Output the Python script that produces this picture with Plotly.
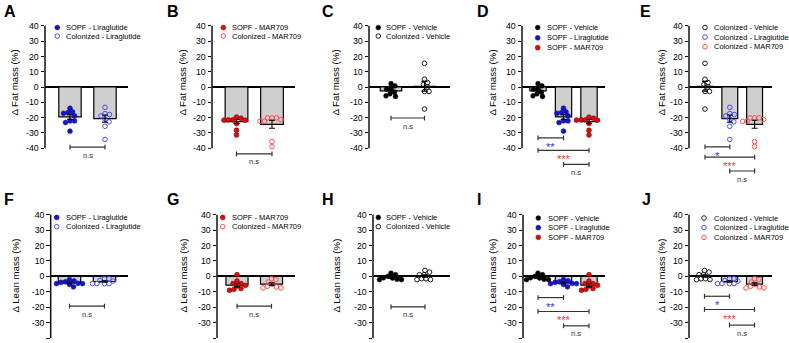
import numpy as np
import plotly.graph_objects as go

W, H = 789, 343
FONT = "Liberation Sans, Arial, sans-serif"

# ---------------- data: % change from baseline, one value per mouse ----------------
group_labels = ["SOPF - Vehicle", "Colonized - Vehicle",
                "SOPF - Liraglutide", "Colonized - Liraglutide",
                "SOPF - MAR709", "Colonized - MAR709"]

fat_sopf_vehicle = [2.2, 0.7, -1.4, -1.4, -3.4, -4.5, -5.8, -6.2]
fat_col_vehicle = [15.5, 5.1, 2.9, 1.6, 0.0, -2.9, -2.9, -14.4]
fat_sopf_lira = [-13.9, -16.3, -16.7, -17.2, -18.9, -22.2, -22.2, -23.3, -28.9]
fat_col_lira = [-13.3, -17.4, -18.0, -18.9, -21.1, -22.8, -25.7, -34.3]
fat_sopf_mar = [-19.7, -20.4, -21.5, -21.5, -21.7, -21.7, -23.9, -28.3, -31.4]
fat_col_mar = [-20.2, -20.2, -20.2, -21.3, -22.4, -22.4, -35.7, -39.0]

lean_sopf_vehicle = [2.1, 1.1, 0.0, -0.9, -1.1, -1.9, -2.1, -2.1]
lean_col_vehicle = [3.9, 2.8, 1.1, 1.1, -1.5, -1.5, -2.1, -2.1]
lean_sopf_lira = [-2.1, -3.0, -3.5, -3.9, -4.5, -4.7, -4.7, -5.2, -6.8]
lean_col_lira = [-1.5, -1.5, -2.6, -3.0, -4.7, -4.7, -4.7, -4.7]
lean_sopf_mar = [1.1, -3.0, -4.7, -4.7, -5.8, -6.2, -7.9, -8.4, -9.0]
lean_col_mar = [-1.5, -2.1, -3.6, -5.2, -6.4, -6.9, -7.5, -7.5]

# group mean and SEM as drawn (bar + error bar)
fat_means = [-2.5, 0.5, -19.6, -20.7, -22.6, -24.4]
fat_sems = [1.0, 3.2, 1.5, 2.4, 1.3, 2.6]
lean_means = [-0.6, 0.3, -4.3, -3.3, -5.7, -5.0]
lean_sems = [0.6, 0.8, 0.5, 0.5, 1.1, 0.8]

fat_points = [fat_sopf_vehicle, fat_col_vehicle, fat_sopf_lira,
              fat_col_lira, fat_sopf_mar, fat_col_mar]
lean_points = [lean_sopf_vehicle, lean_col_vehicle, lean_sopf_lira,
               lean_col_lira, lean_sopf_mar, lean_col_mar]

panel_letters = ["A", "B", "C", "D", "E", "F", "G", "H", "I", "J"]
panel_groups = [[2, 3], [4, 5], [0, 1], [0, 2, 4], [1, 3, 5]] * 2
sig_two = [(0, 1, "n.s")]
sig_sopf = [(0, 1, "**"), (0, 2, "***"), (1, 2, "n.s")]
sig_col = [(0, 1, "*"), (0, 2, "***"), (1, 2, "n.s")]
panel_sig = [sig_two, sig_two, sig_two, sig_sopf, sig_col] * 2
y_titles = ["\u0394 Fat mass (%)", "\u0394 Lean mass (%)"]
y_tick_vals = [40, 30, 20, 10, 0, -10, -20, -30, -40]

# ---------------- layout geometry (pixels) ----------------
ROWS = [dict(zero=85.5, s=1.5375, rng=[-62, 42], letter_y=10, title_y=81),
        dict(zero=276.0, s=1.55, rng=[-42, 42], letter_y=198.5, title_y=275)]

GEO = [
    dict(ax=45, end=128, c0=70, sp=35, tx=15, lx=2, mx=57.3, txt=64, rows=[25.7, 34.3], br=[146]),
    dict(ax=212, end=295, c0=236.5, sp=35.5, tx=183, lx=165, mx=223.3, txt=230, rows=[25.7, 34.3], br=[152.7]),
    dict(ax=369, end=450, c0=391, sp=33.5, tx=336, lx=320, mx=378.3, txt=384, rows=[25.7, 34.3], br=[116.7]),
    dict(ax=522, end=605, c0=538, sp=25.5, tx=493, lx=475, mx=537.7, txt=545, rows=[25.7, 36, 46], br=[136.7, 149.3, 163.3]),
    dict(ax=689, end=772, c0=705, sp=24.8, tx=662, lx=638, mx=705, txt=712, rows=[25.7, 35.3, 45], br=[145.7, 156, 170]),
    dict(ax=50.7, end=128, c0=69.5, sp=35, tx=15, lx=2, mx=56.7, txt=64.3, rows=[216.7, 226], br=[306]),
    dict(ax=217, end=295, c0=237, sp=34.5, tx=183, lx=165, mx=222.7, txt=230, rows=[216.7, 226], br=[306]),
    dict(ax=373, end=450, c0=391, sp=34, tx=336, lx=320, mx=378.3, txt=384, rows=[216.7, 226], br=[306.7]),
    dict(ax=523, end=605, c0=538, sp=25.5, tx=492, lx=475, mx=538.3, txt=546, rows=[217.3, 227, 236.7], br=[297.3, 311.3, 325.7]),
    dict(ax=689, end=772, c0=704.5, sp=25, tx=661, lx=640, mx=704, txt=712, rows=[217.3, 227, 236.7], br=[296, 309.3, 325]),
]

BLUE, BLUE_L = "#1414d2", "#4b4bff"
RED, RED_L = "#e00c0c", "#ff4d4d"
STYLES = [
    dict(symbol="circle", size=4.8, color="#000000", line=dict(color="#000000", width=0.5)),
    dict(symbol="circle-open", size=4.6, color="#1a1a1a", line=dict(color="#1a1a1a", width=1)),
    dict(symbol="circle", size=4.8, color=BLUE, line=dict(color="#0a0a80", width=0.6)),
    dict(symbol="circle-open", size=4.6, color=BLUE_L, line=dict(color=BLUE_L, width=1)),
    dict(symbol="circle", size=4.8, color=RED, line=dict(color="#7a0000", width=0.6)),
    dict(symbol="circle-open", size=4.6, color=RED_L, line=dict(color=RED_L, width=1)),
]
SIG_COLORS = {"n.s": "#333333", "*": "#2a3bd8", "**": "#2a3bd8", "***": "#e83a36"}


def px2paper_x(px):
    return px / W


def px2paper_y(py):
    return 1 - py / H


def swarm(vals, ypx, xpx, d=4.4):
    """Beeswarm offsets (category units) so that markers barely overlap."""
    vals = np.asarray(vals, dtype=float)
    order = np.argsort(-vals, kind="stable")
    cands = [0.0]
    for kk in range(1, 80):
        cands += [kk * 0.5, -kk * 0.5]
    placed = []
    offs = np.zeros(len(vals))
    for idx in order:
        y = vals[idx] * ypx
        for c in cands:
            if all((c - px) ** 2 + (y - py) ** 2 >= d * d for px, py in placed):
                break
        placed.append((c, y))
        offs[idx] = c / xpx
    return offs


fig = go.Figure()
annotations = []
shapes = []

for p, letter in enumerate(panel_letters):
    row = 0 if p < 5 else 1
    R = ROWS[row]
    g = GEO[p]
    k = p + 1
    sfx = "" if k == 1 else str(k)
    xa, ya = "x" + sfx, "y" + sfx
    means_all = fat_means if row == 0 else lean_means
    sems_all = fat_sems if row == 0 else lean_sems
    pts_all = fat_points if row == 0 else lean_points
    groups = panel_groups[p]
    n = len(groups)
    xs = list(range(n))

    def dy(py):
        return (R["zero"] - py) / R["s"]

    def dx(px):
        return (px - g["c0"]) / g["sp"]

    # axes
    top_px = R["zero"] - R["rng"][1] * R["s"]
    bot_px = R["zero"] - R["rng"][0] * R["s"]
    fig.layout["xaxis" + sfx] = dict(
        domain=[px2paper_x(g["ax"]), px2paper_x(g["end"])],
        range=[dx(g["ax"]), dx(g["end"])], anchor=ya,
        visible=False, fixedrange=True)
    fig.layout["yaxis" + sfx] = dict(
        domain=[px2paper_y(bot_px), px2paper_y(top_px)],
        range=R["rng"], anchor=xa,
        tickmode="array", tickvals=y_tick_vals,
        ticktext=[str(v) for v in y_tick_vals],
        ticks="outside", ticklen=3.5, tickwidth=1.3, tickcolor="#111111",
        tickfont=dict(family=FONT, size=8.8, color="#000000"),
        showgrid=False, showline=False,
        zeroline=True, zerolinecolor="#000000", zerolinewidth=1.5,
        fixedrange=True)

    # y axis line from -40 to 40
    shapes.append(dict(type="line", xref=xa + " domain", yref=ya,
                       x0=0, x1=0, y0=-40, y1=40,
                       line=dict(color="#111111", width=1.5)))

    # bars
    fig.add_trace(go.Bar(
        x=xs, y=[means_all[gi] for gi in groups], width=0.64,
        marker=dict(color="#cfcfcf", line=dict(color="#000000", width=1.2)),
        xaxis=xa, yaxis=ya, showlegend=False, hoverinfo="skip"))

    # individual points
    for i, gi in enumerate(groups):
        vals = pts_all[gi]
        offs = swarm(vals, R["s"], g["sp"])
        st = STYLES[gi]
        fig.add_trace(go.Scatter(
            x=[i + o for o in offs], y=vals, mode="markers",
            marker=dict(symbol=st["symbol"], size=st["size"], color=st["color"],
                        line=st["line"]),
            xaxis=xa, yaxis=ya, showlegend=False, cliponaxis=False,
            hoverinfo="skip"))

    # SEM error bars
    fig.add_trace(go.Scatter(
        x=xs, y=[means_all[gi] for gi in groups], mode="markers",
        marker=dict(size=1, color="rgba(0,0,0,0)"),
        error_y=dict(type="data", array=[sems_all[gi] for gi in groups],
                     color="#000000", thickness=1.1, width=3),
        xaxis=xa, yaxis=ya, showlegend=False, hoverinfo="skip"))

    # legend
    for r, gi in enumerate(groups):
        st = STYLES[gi]
        fig.add_trace(go.Scatter(
            x=[dx(g["mx"])], y=[dy(g["rows"][r])], mode="markers",
            marker=dict(symbol=st["symbol"], size=st["size"], color=st["color"],
                        line=st["line"]),
            xaxis=xa, yaxis=ya, showlegend=False, cliponaxis=False,
            hoverinfo="skip"))
        annotations.append(dict(
            x=px2paper_x(g["txt"]), y=px2paper_y(g["rows"][r]),
            xref="paper", yref="paper", xanchor="left", yanchor="middle",
            text=group_labels[gi], showarrow=False,
            font=dict(family=FONT, size=7.5, color="#000000")))

    # significance brackets
    for b, (i0, i1, lab) in enumerate(panel_sig[p]):
        yb = dy(g["br"][b])
        h = 2.4 / R["s"]
        fig.add_trace(go.Scatter(
            x=[i0, i0, None, i0, i1, None, i1, i1],
            y=[yb + h, yb - h, None, yb, yb, None, yb + h, yb - h],
            mode="lines", line=dict(color="#333333", width=1.2),
            xaxis=xa, yaxis=ya, showlegend=False, hoverinfo="skip"))
        is_star = lab != "n.s"
        annotations.append(dict(
            x=(i0 + i1) / 2, y=yb, xref=xa, yref=ya,
            xanchor="center", yanchor="top",
            yshift=-1 if is_star else -1.5,
            text=lab, showarrow=False,
            font=dict(family=FONT, size=11 if is_star else 7.6,
                      color=SIG_COLORS[lab])))

    # panel letter
    annotations.append(dict(
        x=px2paper_x(g["lx"]), y=px2paper_y(R["letter_y"]),
        xref="paper", yref="paper", xanchor="left", yanchor="middle",
        text=f"<b>{letter}</b>", showarrow=False,
        font=dict(family=FONT, size=16, color="#000000")))

    # y axis title
    annotations.append(dict(
        x=px2paper_x(g["tx"]), y=px2paper_y(R["title_y"]),
        xref="paper", yref="paper", xanchor="center", yanchor="middle",
        textangle=-90, text=y_titles[row], showarrow=False,
        font=dict(family=FONT, size=9.7, color="#000000")))

fig.update_layout(
    width=W, height=H, autosize=False,
    margin=dict(l=0, r=0, t=0, b=0, pad=0),
    paper_bgcolor="#ffffff", plot_bgcolor="rgba(0,0,0,0)",
    showlegend=False, barmode="overlay",
    annotations=annotations, shapes=shapes,
    font=dict(family=FONT),
)

fig.write_html("out.html", config={"displayModeBar": False},
               post_script="document.body.style.margin='0px';"
                           "document.body.style.overflow='hidden';")
